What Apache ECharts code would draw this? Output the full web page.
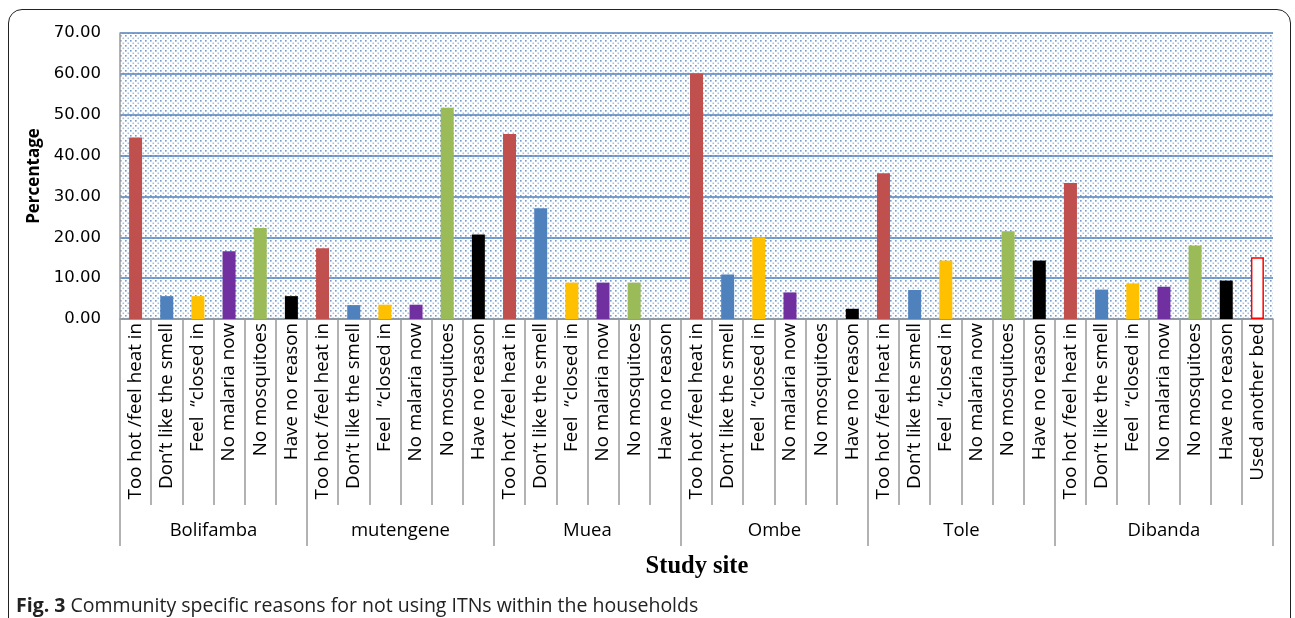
<!DOCTYPE html>
<html>
<head>
<meta charset="utf-8">
<script src="https://cdn.jsdelivr.net/npm/echarts@6/dist/echarts.min.js"></script>
<style>
html,body{margin:0;padding:0;background:#fff;}
#frame{position:absolute;left:8px;top:9px;width:1283px;height:640px;border:1.6px solid #222;border-radius:14px;box-sizing:border-box;}
#chart{position:absolute;left:0;top:0;width:1295px;height:618px;}
</style>
</head>
<body>
<div id="frame"></div>
<div id="chart"></div>
<script>
// ---- data ----
const reasons = ['Too hot /feel heat in', 'Don\u2019t like the smell', 'Feel  \u201cclosed in', 'No malaria now', 'No mosquitoes', 'Have no reason'];
const extraReason = 'Used another bed';
const sites = ['Bolifamba', 'mutengene', 'Muea', 'Ombe', 'Tole', 'Dibanda'];
const bolifamba = [44.4, 5.6, 5.6, 16.6, 22.3, 5.6];
const mutengene = [17.3, 3.4, 3.5, 3.5, 51.7, 20.7];
const muea = [45.3, 27.1, 8.9, 8.9, 8.9, 0];
const ombe = [60.1, 10.9, 20.0, 6.5, 0, 2.5];
const tole = [35.7, 7.1, 14.3, 0, 21.5, 14.3];
const dibanda = [33.3, 7.2, 8.7, 7.9, 18.0, 9.4, 15.1];
const yTicks = [0, 10, 20, 30, 40, 50, 60, 70];
const reasonColors = ['#C0504D', '#4F81BD', '#FFC000', '#7030A0', '#9BBB59', '#000000'];

// ---- build ----
const siteValues = [bolifamba, mutengene, muea, ombe, tole, dibanda];
const categories = [];
const barData = [];
const groupBounds = [0];
const groupCenters = [];
let idx = 0;
siteValues.forEach((vals, s) => {
  const start = idx;
  vals.forEach((v, i) => {
    const isExtra = i >= reasons.length;
    categories.push(isExtra ? extraReason : reasons[i]);
    barData.push(isExtra
      ? { value: v, itemStyle: { color: '#ffffff', borderColor: '#FF0000', borderWidth: 1.5 } }
      : { value: v, itemStyle: { color: reasonColors[i] } });
    idx++;
  });
  groupBounds.push(idx);
  groupCenters.push((start + idx) / 2);
});

// dotted background pattern
const tile = document.createElement('canvas');
tile.width = 5; tile.height = 5;
const tc = tile.getContext('2d');
tc.fillStyle = '#ffffff';
tc.fillRect(0, 0, 5, 5);
tc.fillStyle = 'rgba(79,129,189,0.8)';
tc.fillRect(0, 0, 1.6, 1.6);
tc.fillStyle = 'rgba(79,129,189,0.5)';
tc.fillRect(2.5, 2.5, 1.6, 1.6);

const chart = echarts.init(document.getElementById('chart'), null, { renderer: 'canvas' });
const labelFont = 'Open Sans';
chart.setOption({
  animation: false,
  backgroundColor: 'transparent',
  title: [
    {
      text: 'Study site', left: 692, top: 549, textAlign: 'center',
      textStyle: { fontFamily: 'Liberation Serif', fontWeight: 'bold', fontSize: 24.5, color: '#000' }
    },
    {
      text: '{b|Fig. 3} Community specific reasons for not using ITNs within the households',
      left: 11, top: 591,
      textStyle: {
        fontFamily: 'Open Sans', fontSize: 19.5, color: '#222', fontWeight: 'normal',
        rich: { b: { fontFamily: 'Open Sans', fontWeight: 'bold', fontSize: 19.5, color: '#222' } }
      }
    }
  ],
  grid: {
    left: 120, right: 22, top: 33, bottom: 299,
    show: true, borderWidth: 0,
    backgroundColor: { image: tile, repeat: 'repeat' }
  },
  xAxis: [
    {
      type: 'category', data: categories, position: 'bottom',
      axisLine: { show: true, lineStyle: { color: '#999', width: 1.5 } },
      axisTick: { show: true, length: 186, lineStyle: { color: '#999', width: 1.5 } },
      axisLabel: { rotate: 90, interval: 0, margin: 4, fontFamily: labelFont, fontSize: 18.8, color: '#000' },
      splitLine: { show: false }
    },
    {
      type: 'value', min: 0, max: categories.length, position: 'bottom',
      axisLine: { show: false },
      axisTick: { show: true, length: 227, customValues: groupBounds, lineStyle: { color: '#999', width: 1.5 } },
      axisLabel: {
        show: true, margin: 202, customValues: groupCenters,
        fontFamily: labelFont, fontSize: 18.5, color: '#000',
        formatter: (v) => sites[groupCenters.indexOf(v)]
      },
      splitLine: { show: false }
    }
  ],
  yAxis: {
    type: 'value', min: yTicks[0], max: yTicks[yTicks.length - 1], interval: 10,
    name: 'Percentage', nameLocation: 'middle', nameGap: 75,
    nameTextStyle: { fontFamily: labelFont, fontWeight: 'bold', fontSize: 17, color: '#000' },
    axisLine: { show: true, lineStyle: { color: '#999', width: 1.5 } },
    axisTick: { show: false },
    axisLabel: { formatter: (v) => v.toFixed(2), fontFamily: 'DejaVu Sans', fontSize: 16.5, color: '#000', margin: 19 },
    splitLine: { show: true, lineStyle: { color: '#4F81BD', width: 1.5 } }
  },
  series: [
    {
      type: 'bar', xAxisIndex: 0, data: barData, barWidth: 13
    }
  ]
});
</script>
</body>
</html>
